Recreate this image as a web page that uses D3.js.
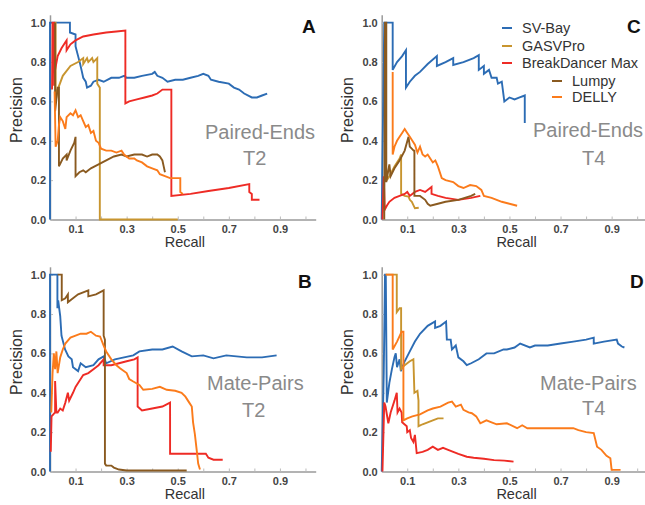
<!DOCTYPE html>
<html>
<head>
<meta charset="utf-8">
<script src="https://cdn.jsdelivr.net/npm/d3@7"></script>
<style>
  body { margin: 0; background: #fff; }
  svg { display: block; }
</style>
</head>
<body>
<svg id="chart" width="645" height="505"></svg>
<script>
const methods = ['SV-Bay', 'GASVPro', 'BreakDancer Max', 'Lumpy', 'DELLY'];
const methodColors = ['#2c6cb4', '#c8952f', '#ee2b25', '#8a5a20', '#fb7b1b'];

const xTicks = [0.1, 0.2, 0.3, 0.4, 0.5, 0.6, 0.7, 0.8, 0.9, 1.0];
const xTickLabels = ['0.1', '', '0.3', '', '0.5', '', '0.7', '', '0.9', ''];
const yTicks = [0.0, 0.2, 0.4, 0.6, 0.8, 1.0];

// [recall, precision] pairs
// A: paired-ends, T2
const peT2SvBay = [[0,0],[0,1.0],[0.078,1.0],[0.078,0.95],[0.10,0.94],[0.10,0.88],[0.11,0.83],[0.118,0.79],[0.125,0.75],[0.13,0.72],[0.14,0.70],[0.145,0.67],[0.16,0.68],[0.17,0.70],[0.19,0.71],[0.21,0.70],[0.24,0.72],[0.27,0.72],[0.29,0.73],[0.30,0.72],[0.33,0.72],[0.36,0.73],[0.40,0.74],[0.41,0.75],[0.42,0.73],[0.44,0.72],[0.46,0.70],[0.49,0.71],[0.52,0.71],[0.55,0.72],[0.58,0.73],[0.60,0.74],[0.62,0.73],[0.63,0.71],[0.66,0.70],[0.70,0.69],[0.72,0.67],[0.74,0.66],[0.76,0.64],[0.79,0.62],[0.81,0.62],[0.83,0.63],[0.85,0.64]];
const peT2Gasv = [[0.018,1.0],[0.022,1.0],[0.022,0.60],[0.03,0.66],[0.05,0.73],[0.08,0.78],[0.11,0.80],[0.13,0.82],[0.13,0.79],[0.145,0.82],[0.15,0.80],[0.165,0.82],[0.17,0.80],[0.185,0.82],[0.185,0.69],[0.195,0.67],[0.195,0.0],[0.50,0.0]];
const peT2Bd = [[0.008,0.66],[0.010,1.0],[0.016,1.0],[0.016,0.68],[0.02,0.76],[0.03,0.83],[0.045,0.87],[0.06,0.90],[0.065,0.91],[0.065,0.86],[0.08,0.89],[0.10,0.91],[0.13,0.93],[0.17,0.94],[0.22,0.95],[0.26,0.955],[0.295,0.96],[0.295,0.59],[0.31,0.60],[0.34,0.61],[0.37,0.62],[0.40,0.63],[0.42,0.64],[0.44,0.66],[0.46,0.66],[0.475,0.66],[0.475,0.12],[0.55,0.13],[0.62,0.145],[0.70,0.16],[0.78,0.18],[0.78,0.14],[0.79,0.13],[0.79,0.10],[0.82,0.10]];
const peT2Lumpy = [[0.02,1.0],[0.02,0.55],[0.03,0.67],[0.035,0.67],[0.035,0.27],[0.05,0.31],[0.065,0.33],[0.065,0.30],[0.08,0.35],[0.095,0.39],[0.10,0.42],[0.10,0.22],[0.115,0.24],[0.13,0.25],[0.14,0.24],[0.16,0.26],[0.19,0.28],[0.22,0.30],[0.25,0.32],[0.28,0.33],[0.30,0.32],[0.33,0.33],[0.36,0.33],[0.38,0.32],[0.40,0.33],[0.42,0.33],[0.43,0.32],[0.44,0.30],[0.445,0.27],[0.45,0.24]];
const peT2Delly = [[0.018,0.65],[0.022,0.37],[0.03,0.40],[0.035,0.48],[0.04,0.52],[0.05,0.50],[0.06,0.46],[0.065,0.52],[0.08,0.54],[0.09,0.53],[0.10,0.555],[0.11,0.52],[0.12,0.53],[0.13,0.50],[0.14,0.47],[0.15,0.48],[0.16,0.44],[0.17,0.45],[0.18,0.40],[0.19,0.39],[0.20,0.36],[0.22,0.35],[0.24,0.35],[0.26,0.34],[0.28,0.35],[0.29,0.33],[0.31,0.31],[0.33,0.31],[0.34,0.30],[0.36,0.29],[0.38,0.27],[0.40,0.26],[0.42,0.25],[0.43,0.23],[0.45,0.22],[0.47,0.21],[0.49,0.21],[0.51,0.21],[0.51,0.14],[0.52,0.13]];

// C: paired-ends, T4
const peT4SvBay = [[0,0],[0.01,1.0],[0.043,1.0],[0.043,0.76],[0.06,0.80],[0.08,0.83],[0.095,0.86],[0.095,0.67],[0.11,0.70],[0.13,0.73],[0.15,0.75],[0.18,0.79],[0.216,0.83],[0.216,0.78],[0.25,0.80],[0.28,0.82],[0.28,0.785],[0.32,0.80],[0.36,0.82],[0.38,0.835],[0.38,0.76],[0.40,0.78],[0.40,0.74],[0.42,0.76],[0.43,0.72],[0.45,0.72],[0.455,0.69],[0.47,0.70],[0.48,0.60],[0.50,0.62],[0.52,0.61],[0.54,0.62],[0.56,0.63],[0.56,0.49]];
const peT4Gasv = [[0.02,0.2],[0.03,0.22],[0.05,0.27],[0.07,0.31],[0.076,0.33],[0.076,0.13],[0.09,0.12],[0.105,0.116],[0.11,0.10],[0.118,0.09],[0.13,0.057],[0.145,0.06]];
const peT4Bd = [[0.003,0.0],[0.008,0.22],[0.012,0.05],[0.02,0.07],[0.03,0.09],[0.05,0.11],[0.07,0.12],[0.09,0.13],[0.10,0.14],[0.11,0.12],[0.13,0.14],[0.15,0.15],[0.17,0.14],[0.195,0.165],[0.195,0.13],[0.22,0.12],[0.25,0.11],[0.30,0.10],[0.35,0.11],[0.386,0.12]];
const peT4Lumpy = [[0.01,0.0],[0.013,1.0],[0.018,1.0],[0.018,0.19],[0.03,0.28],[0.035,0.22],[0.05,0.26],[0.07,0.30],[0.09,0.35],[0.105,0.42],[0.11,0.37],[0.125,0.35],[0.128,0.35],[0.128,0.12],[0.15,0.12],[0.17,0.10],[0.18,0.08],[0.19,0.07],[0.22,0.08],[0.25,0.09],[0.30,0.10],[0.35,0.12],[0.366,0.13]];
const peT4Delly = [[0.043,0.75],[0.043,0.33],[0.05,0.37],[0.06,0.40],[0.07,0.42],[0.08,0.44],[0.09,0.46],[0.10,0.44],[0.11,0.42],[0.12,0.40],[0.13,0.38],[0.14,0.34],[0.15,0.37],[0.16,0.33],[0.17,0.32],[0.18,0.33],[0.19,0.31],[0.20,0.29],[0.21,0.30],[0.22,0.27],[0.235,0.21],[0.25,0.20],[0.28,0.19],[0.30,0.17],[0.32,0.16],[0.346,0.175],[0.37,0.17],[0.39,0.15],[0.40,0.12],[0.43,0.11],[0.45,0.10],[0.47,0.09],[0.50,0.08],[0.53,0.07]];

// B: mate-pairs, T2
const mpT2SvBay = [[0,0],[0,1.0],[0.029,1.0],[0.029,0.83],[0.032,0.87],[0.04,0.79],[0.045,0.69],[0.059,0.62],[0.072,0.585],[0.085,0.57],[0.09,0.53],[0.11,0.51],[0.12,0.55],[0.14,0.53],[0.17,0.54],[0.19,0.57],[0.21,0.585],[0.22,0.55],[0.254,0.57],[0.29,0.58],[0.326,0.59],[0.35,0.61],[0.40,0.62],[0.44,0.62],[0.48,0.635],[0.515,0.61],[0.555,0.585],[0.60,0.59],[0.64,0.575],[0.69,0.59],[0.77,0.58],[0.83,0.58],[0.887,0.59]];
const mpT2Gasv = [];
const mpT2Bd = [[0.003,0.1],[0.006,0.28],[0.02,0.30],[0.02,0.46],[0.025,0.30],[0.03,0.30],[0.04,0.32],[0.05,0.31],[0.06,0.35],[0.07,0.40],[0.075,0.36],[0.09,0.40],[0.10,0.43],[0.12,0.47],[0.13,0.49],[0.15,0.50],[0.17,0.52],[0.19,0.54],[0.21,0.57],[0.21,0.54],[0.24,0.54],[0.27,0.55],[0.30,0.56],[0.33,0.57],[0.343,0.58],[0.343,0.33],[0.36,0.31],[0.40,0.32],[0.44,0.33],[0.47,0.35],[0.47,0.09],[0.61,0.09],[0.62,0.07],[0.64,0.06],[0.676,0.06]];
const mpT2Lumpy = [[0.03,1.0],[0.046,1.0],[0.046,0.87],[0.06,0.88],[0.07,0.90],[0.07,0.86],[0.09,0.88],[0.11,0.90],[0.15,0.92],[0.15,0.89],[0.18,0.90],[0.21,0.92],[0.21,0.69],[0.215,0.67],[0.215,0.04],[0.22,0.03],[0.24,0.03],[0.25,0.02],[0.27,0.01],[0.30,0.005],[0.40,0.005],[0.535,0.005]];
const mpT2Delly = [[0.005,0.30],[0.01,0.50],[0.015,0.60],[0.02,0.52],[0.025,0.61],[0.03,0.50],[0.04,0.58],[0.05,0.62],[0.06,0.65],[0.08,0.68],[0.10,0.69],[0.12,0.70],[0.143,0.70],[0.16,0.71],[0.18,0.69],[0.196,0.686],[0.21,0.64],[0.22,0.61],[0.24,0.57],[0.26,0.54],[0.274,0.525],[0.30,0.50],[0.31,0.47],[0.326,0.457],[0.35,0.44],[0.365,0.415],[0.40,0.42],[0.43,0.43],[0.457,0.415],[0.49,0.41],[0.515,0.40],[0.53,0.38],[0.545,0.35],[0.555,0.33],[0.56,0.25],[0.567,0.19],[0.575,0.10],[0.58,0.04],[0.587,0.01]];

// D: mate-pairs, T4
const mpT4SvBay = [[0,0],[0.008,0.5],[0.013,1.0],[0.016,1.0],[0.02,0.35],[0.03,0.45],[0.04,0.52],[0.05,0.58],[0.055,0.60],[0.06,0.53],[0.07,0.57],[0.075,0.51],[0.09,0.56],[0.11,0.61],[0.13,0.66],[0.15,0.70],[0.18,0.74],[0.209,0.762],[0.209,0.73],[0.23,0.74],[0.252,0.762],[0.255,0.67],[0.27,0.67],[0.275,0.62],[0.29,0.64],[0.30,0.58],[0.32,0.56],[0.333,0.54],[0.35,0.55],[0.38,0.57],[0.41,0.60],[0.44,0.60],[0.477,0.62],[0.49,0.62],[0.52,0.63],[0.542,0.65],[0.58,0.63],[0.60,0.64],[0.65,0.64],[0.70,0.65],[0.75,0.66],[0.80,0.67],[0.83,0.68],[0.83,0.65],[0.87,0.66],[0.92,0.67],[0.925,0.65],[0.94,0.635],[0.95,0.63]];
const mpT4Gasv = [[0.018,1.0],[0.059,1.0],[0.059,0.81],[0.07,0.83],[0.076,0.83],[0.076,0.52],[0.09,0.54],[0.11,0.56],[0.124,0.57],[0.128,0.40],[0.14,0.41],[0.144,0.36],[0.144,0.23],[0.16,0.24],[0.18,0.25],[0.20,0.26],[0.22,0.27],[0.242,0.27]];
const mpT4Bd = [[0.003,0.0],[0.01,0.35],[0.015,0.33],[0.026,0.245],[0.035,0.30],[0.05,0.36],[0.059,0.40],[0.062,0.30],[0.07,0.32],[0.078,0.30],[0.08,0.25],[0.098,0.23],[0.10,0.20],[0.11,0.21],[0.115,0.17],[0.124,0.15],[0.13,0.186],[0.137,0.093],[0.16,0.10],[0.18,0.11],[0.20,0.126],[0.22,0.11],[0.24,0.12],[0.26,0.11],[0.28,0.10],[0.30,0.09],[0.333,0.075],[0.36,0.07],[0.40,0.065],[0.44,0.058],[0.48,0.055],[0.516,0.05]];
const mpT4Lumpy = [];
const mpT4Delly = [[0.015,1.0],[0.043,1.0],[0.043,0.62],[0.06,0.66],[0.078,0.71],[0.085,0.71],[0.085,0.26],[0.10,0.27],[0.12,0.28],[0.15,0.29],[0.18,0.31],[0.20,0.32],[0.23,0.33],[0.26,0.35],[0.275,0.355],[0.29,0.33],[0.31,0.34],[0.32,0.313],[0.34,0.30],[0.353,0.296],[0.37,0.28],[0.386,0.245],[0.41,0.26],[0.43,0.25],[0.45,0.24],[0.49,0.245],[0.53,0.22],[0.55,0.235],[0.57,0.22],[0.62,0.22],[0.68,0.22],[0.75,0.22],[0.77,0.21],[0.80,0.20],[0.83,0.195],[0.843,0.126],[0.86,0.11],[0.88,0.08],[0.895,0.067],[0.90,0.008],[0.935,0.008]];

const panels = [
  { letter: 'A', ox: 0, oy: 0, title: ['Paired-Ends', 'T2'], series: [peT2SvBay, peT2Gasv, peT2Bd, peT2Lumpy, peT2Delly],
    letterPos: [302, 33], titlePos: [[205, 139], [243, 165]] },
  { letter: 'C', ox: 331.7, oy: 0, title: ['Paired-Ends', 'T4'], series: [peT4SvBay, peT4Gasv, peT4Bd, peT4Lumpy, peT4Delly],
    letterPos: [627, 33], titlePos: [[533, 137], [582, 165]] },
  { letter: 'B', ox: 0, oy: 252, title: ['Mate-Pairs', 'T2'], series: [mpT2SvBay, mpT2Gasv, mpT2Bd, mpT2Lumpy, mpT2Delly],
    letterPos: [298, 288], titlePos: [[207, 390], [242, 417]] },
  { letter: 'D', ox: 331.7, oy: 252, title: ['Mate-Pairs', 'T4'], series: [mpT4SvBay, mpT4Gasv, mpT4Bd, mpT4Lumpy, mpT4Delly],
    letterPos: [630, 288], titlePos: [[540, 390], [582, 415]] }
];

const svg = d3.select('#chart');
const left = 50, bottom = 219.5;
const plotW = 265.7, plotH = 204.7;

const x = d3.scaleLinear().domain([0, 1.04]).range([0, plotW]);
const y = d3.scaleLinear().domain([0, 1.04]).range([plotH, 0]);
const line = d3.line().x(d => x(d[0])).y(d => y(d[1]));

panels.forEach(p => {
  const g = svg.append('g')
    .attr('transform', `translate(${p.ox + left},${p.oy + bottom - plotH})`);

  // axes: inward ticks, grey spines, no top/right
  const xAxis = g.append('g')
    .attr('transform', `translate(0,${plotH})`)
    .call(d3.axisBottom(x).tickValues(xTicks).tickSizeInner(-3).tickSizeOuter(0).tickPadding(5.5)
      .tickFormat((d, i) => xTickLabels[i]));
  const yAxis = g.append('g')
    .call(d3.axisLeft(y).tickValues(yTicks).tickSizeInner(-3).tickSizeOuter(0).tickPadding(4)
      .tickFormat(d3.format('.1f')));

  [xAxis, yAxis].forEach(a => {
    a.select('.domain').attr('stroke', '#9a9a9a').attr('stroke-width', 1.5);
    a.selectAll('.tick line').attr('stroke', '#bbb');
    a.selectAll('.tick text')
      .attr('fill', '#444')
      .style('font-family', '"Liberation Sans", Arial, sans-serif')
      .style('font-size', '11px')
      .style('font-weight', 'bold');
  });

  g.append('text')
    .attr('x', plotW / 2 + 2)
    .attr('y', plotH + 28)
    .attr('text-anchor', 'middle')
    .attr('fill', '#333')
    .style('font-family', '"Liberation Sans", Arial, sans-serif')
    .style('font-size', '14.5px')
    .text('Recall');

  g.append('text')
    .attr('transform', `translate(${16 - left},${110 - (bottom - plotH)}) rotate(-90)`)
    .attr('text-anchor', 'middle')
    .attr('dy', '0.35em')
    .attr('fill', '#333')
    .style('font-family', '"Liberation Sans", Arial, sans-serif')
    .style('font-size', '16px')
    .text('Precision');

  p.series.forEach((pts, i) => {
    if (!pts.length) return;
    g.append('path')
      .datum(pts)
      .attr('d', line)
      .attr('fill', 'none')
      .attr('stroke', methodColors[i])
      .attr('stroke-width', 1.9);
  });

  // grey condition label
  p.title.forEach((t, i) => {
    svg.append('text')
      .attr('x', p.titlePos[i][0])
      .attr('y', p.titlePos[i][1])
      .attr('fill', '#8a8a8a')
      .style('font-family', '"Liberation Sans", Arial, sans-serif')
      .style('font-size', '20px')
      .text(t);
  });

  svg.append('text')
    .attr('x', p.letterPos[0])
    .attr('y', p.letterPos[1])
    .attr('fill', '#111')
    .style('font-family', '"Liberation Sans", Arial, sans-serif')
    .style('font-size', '19px')
    .style('font-weight', 'bold')
    .text(p.letter);
});

// legend (inside panel C); last two entries sit further right, as in the original
const legendPos = [[502, 28], [502, 46], [502, 63], [552, 81], [552, 97]];
const legend = svg.append('g');
methods.forEach((m, i) => {
  const [lx, ly] = legendPos[i];
  legend.append('line')
    .attr('x1', lx).attr('x2', lx + 10)
    .attr('y1', ly).attr('y2', ly)
    .attr('stroke', methodColors[i])
    .attr('stroke-width', 2);
  legend.append('text')
    .attr('x', lx + 20)
    .attr('y', ly)
    .attr('dy', '0.35em')
    .attr('fill', '#333')
    .style('font-family', '"Liberation Sans", Arial, sans-serif')
    .style('font-size', '14.5px')
    .text(m);
});
</script>
</body>
</html>
